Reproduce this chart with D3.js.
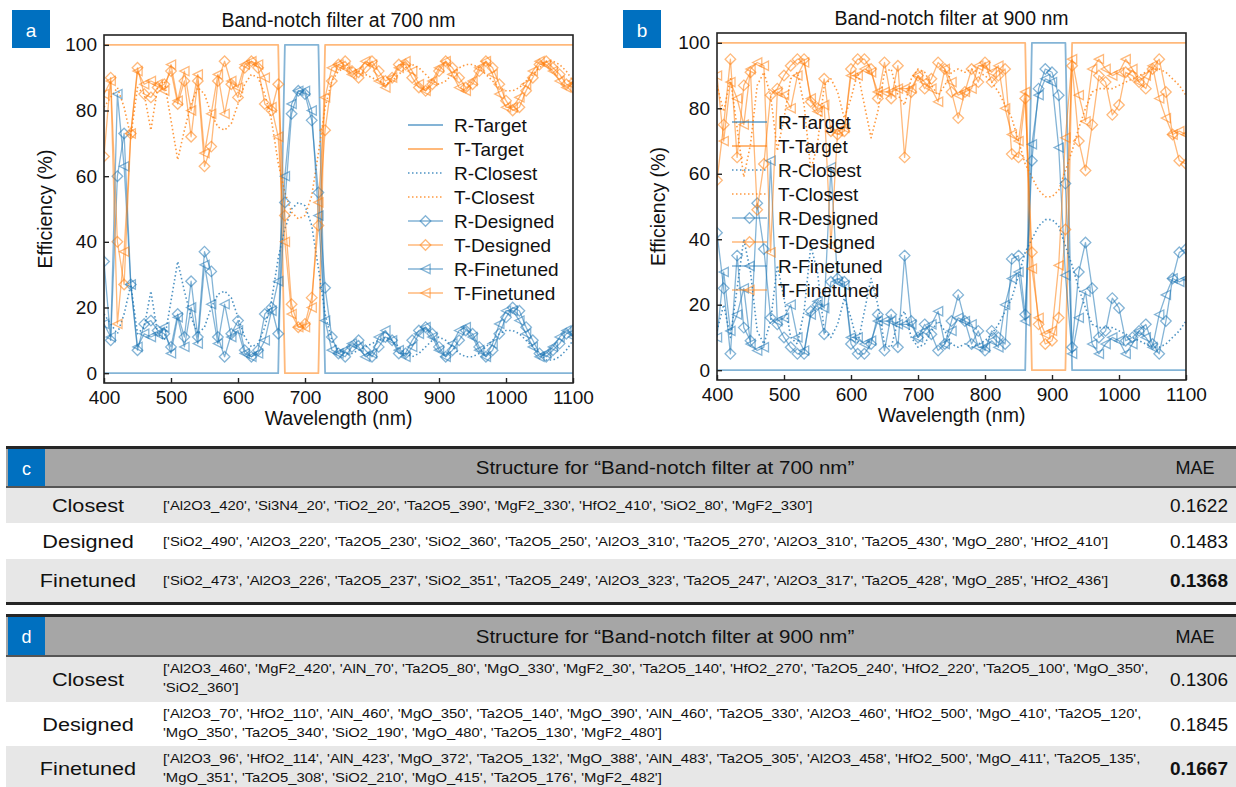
<!DOCTYPE html>
<html>
<head>
<meta charset="utf-8">
<script src="https://cdn.jsdelivr.net/npm/d3@7"></script>
<style>
  body { margin: 0; background: #fff; }
  svg { display: block; font-family: "Liberation Sans", Arial, sans-serif; }
</style>
</head>
<body>
<svg id="fig" width="1236" height="787"></svg>
<script>
// Wavelength grid (nm), sampled every 10 nm
const wavelength = d3.range(400, 1101, 10);
const xTicks = [400, 500, 600, 700, 800, 900, 1000, 1100];
const yTicks = [0, 20, 40, 60, 80, 100];
const legendLabels = ['R-Target', 'T-Target', 'R-Closest', 'T-Closest', 'R-Designed', 'T-Designed', 'R-Finetuned', 'T-Finetuned'];

// ---- Band-notch filter at 700 nm (efficiency, %) ----
const a_RTarget = [0,0,0,0,0,0,0,0,0,0, 0,0,0,0,0,0,0,0,0,0, 0,0,0,0,0,0,0,100,100,100, 100,100,100,0,0,0,0,0,0,0, 0,0,0,0,0,0,0,0,0,0, 0,0,0,0,0,0,0,0,0,0, 0,0,0,0,0,0,0,0,0,0, 0];
const a_TTarget = [100,100,100,100,100,100,100,100,100,100, 100,100,100,100,100,100,100,100,100,100, 100,100,100,100,100,100,100,0,0,0, 0,0,0,100,100,100,100,100,100,100, 100,100,100,100,100,100,100,100,100,100, 100,100,100,100,100,100,100,100,100,100, 100,100,100,100,100,100,100,100,100,100, 100];
const a_RClosest = [18,15,12,18,27,12,14,25,12,10, 22,34,25,17,12,14,20,24,25,23, 17,11,8,9,14,22,35,44,50,52, 51,45,32,18,10,7,6,6,7,8, 9,10,11,10,8,6,5,6,8,10, 11,10,8,6,5,5,6,8,10,12, 13,13,12,10,8,6,4,4,5,7, 10];
const a_TClosest = [81,84,87,81,72,87,85,74,87,89, 77,65,74,82,87,85,79,75,74,76, 82,88,91,90,85,77,64,55,49,47, 48,54,67,81,89,92,93,93,92,91, 90,89,88,89,91,93,94,93,91,89, 88,89,91,93,94,94,93,91,89,87, 86,86,87,89,91,93,95,95,94,92, 89];
const a_RDesigned = [34,10,60,73,27,7,15,16,13,12, 8,18,11,28,11,37,31,11,5,12, 16,7,5,7,18,20,12,52,79,86, 85,77,55,26,11,6,5,8,10,7, 5,8,11,10,6,6,10,13,14,12, 8,5,7,10,13,12,8,5,7,12, 17,20,19,14,10,6,5,7,9,12, 13];
const a_TDesigned = [66,90,40,27,73,93,85,84,87,88, 92,82,89,72,89,63,69,89,95,88, 84,93,95,93,82,80,88,48,21,14, 15,23,45,74,89,94,95,92,90,93, 95,92,89,90,94,94,90,87,86,88, 92,95,93,90,87,88,92,95,93,88, 83,80,81,86,90,94,95,93,91,88, 87];
const a_RFinetuned = [15,11,85,63,27,8,12,11,12,14, 6,17,8,20,9,33,21,9,21,11, 13,6,5,6,10,19,28,60,82,86, 86,80,48,16,7,6,7,9,8,5, 6,11,13,10,7,5,8,12,14,11, 7,5,9,13,14,11,7,5,9,15, 19,19,16,12,8,5,6,8,11,13, 11];
const a_TFinetuned = [85,89,15,37,73,92,88,89,88,86, 94,83,92,80,91,67,79,91,79,89, 87,94,95,94,90,81,72,40,18,14, 14,20,52,84,93,94,93,91,92,95, 94,89,87,90,93,95,92,88,86,89, 93,95,91,87,86,89,93,95,91,85, 81,81,84,88,92,95,94,92,89,87, 89];

// ---- Band-notch filter at 900 nm (efficiency, %) ----
const b_RTarget = [0,0,0,0,0,0,0,0,0,0, 0,0,0,0,0,0,0,0,0,0, 0,0,0,0,0,0,0,0,0,0, 0,0,0,0,0,0,0,0,0,0, 0,0,0,0,0,0,0,100,100,100, 100,100,100,0,0,0,0,0,0,0, 0,0,0,0,0,0,0,0,0,0, 0];
const b_TTarget = [100,100,100,100,100,100,100,100,100,100, 100,100,100,100,100,100,100,100,100,100, 100,100,100,100,100,100,100,100,100,100, 100,100,100,100,100,100,100,100,100,100, 100,100,100,100,100,100,100,0,0,0, 0,0,0,100,100,100,100,100,100,100, 100,100,100,100,100,100,100,100,100,100, 100];
const b_RClosest = [12,20,10,25,40,30,12,8,15,32, 22,10,8,18,38,30,12,10,14,22, 16,8,18,28,20,8,7,15,18,10, 7,8,12,15,12,8,7,8,7,8, 9,11,14,18,22,29,36,40,44,46, 46,44,38,32,25,19,14,13,13,13, 12,11,10,9,8,7,7,8,10,12, 15];
const b_TClosest = [87,79,89,74,59,69,87,91,84,67, 77,89,91,81,61,69,87,89,85,77, 83,91,81,71,79,91,92,84,81,89, 92,91,87,84,87,91,92,91,92,91, 90,88,85,81,77,70,63,59,55,53, 53,55,61,67,74,80,85,86,86,86, 87,88,89,90,91,92,92,91,89,87, 84];
const b_RDesigned = [42,25,5,35,13,9,51,37,16,14, 10,7,5,5,18,20,11,27,28,27, 8,5,5,8,17,6,17,7,35,15, 10,14,11,6,8,15,23,15,8,12, 6,12,10,8,34,35,17,64,86,92, 91,84,57,7,30,39,25,10,12,22, 19,9,10,12,14,8,5,15,28,36, 37];
const b_TDesigned = [58,75,95,65,87,91,49,63,84,86, 90,93,95,95,82,80,89,73,72,73, 92,95,95,92,83,94,83,93,65,85, 90,86,89,94,92,85,77,85,92,88, 94,88,90,92,66,65,83,36,14,8, 9,16,43,93,70,61,75,90,88,78, 81,91,90,88,86,92,95,85,72,64, 63];
const b_RFinetuned = [10,30,12,17,25,8,6,7,64,15, 16,20,10,6,17,21,19,62,27,26, 10,10,8,9,15,15,15,14,14,14, 10,12,14,18,8,12,16,15,14,7, 7,9,7,20,28,30,15,69,84,89, 88,68,29,5,16,24,8,5,8,10, 9,5,8,12,10,7,17,23,28,27, 28];
const b_TFinetuned = [90,70,88,83,75,92,94,93,36,85, 84,80,90,94,83,79,81,38,73,74, 90,90,92,91,85,85,85,86,86,86, 90,88,86,82,92,88,84,85,86,93, 93,91,93,80,72,70,85,31,16,11, 12,32,71,95,84,76,92,95,92,90, 91,95,92,88,90,93,83,77,72,73, 72];

// ---- Layer structures and mean absolute error ----
const rowNames = ['Closest', 'Designed', 'Finetuned'];
const structure700 = [
  ["['Al2O3_420', 'Si3N4_20', 'TiO2_20', 'Ta2O5_390', 'MgF2_330', 'HfO2_410', 'SiO2_80', 'MgF2_330']"],
  ["['SiO2_490', 'Al2O3_220', 'Ta2O5_230', 'SiO2_360', 'Ta2O5_250', 'Al2O3_310', 'Ta2O5_270', 'Al2O3_310', 'Ta2O5_430', 'MgO_280', 'HfO2_410']"],
  ["['SiO2_473', 'Al2O3_226', 'Ta2O5_237', 'SiO2_351', 'Ta2O5_249', 'Al2O3_323', 'Ta2O5_247', 'Al2O3_317', 'Ta2O5_428', 'MgO_285', 'HfO2_436']"]
];
const mae700 = ['0.1622', '0.1483', '0.1368'];
const structure900 = [
  ["['Al2O3_460', 'MgF2_420', 'AlN_70', 'Ta2O5_80', 'MgO_330', 'MgF2_30', 'Ta2O5_140', 'HfO2_270', 'Ta2O5_240', 'HfO2_220', 'Ta2O5_100', 'MgO_350',",
   "'SiO2_360']"],
  ["['Al2O3_70', 'HfO2_110', 'AlN_460', 'MgO_350', 'Ta2O5_140', 'MgO_390', 'AlN_460', 'Ta2O5_330', 'Al2O3_460', 'HfO2_500', 'MgO_410', 'Ta2O5_120',",
   "'MgO_350', 'Ta2O5_340', 'SiO2_190', 'MgO_480', 'Ta2O5_130', 'MgF2_480']"],
  ["['Al2O3_96', 'HfO2_114', 'AlN_423', 'MgO_372', 'Ta2O5_132', 'MgO_388', 'AlN_483', 'Ta2O5_305', 'Al2O3_458', 'HfO2_500', 'MgO_411', 'Ta2O5_135',",
   "'MgO_351', 'Ta2O5_308', 'SiO2_210', 'MgO_415', 'Ta2O5_176', 'MgF2_482']"]
];
const mae900 = ['0.1306', '0.1845', '0.1667'];

const BLUE = '#1f77b4', ORANGE = '#ff7f0e', TAG = '#0070c0';
const seriesStyles = [
  { color: BLUE,   width: 1.8, opacity: 0.55 },
  { color: ORANGE, width: 1.8, opacity: 0.55 },
  { color: BLUE,   width: 1.6, opacity: 0.8, dash: '1.5,2.5' },
  { color: ORANGE, width: 1.6, opacity: 0.8, dash: '1.5,2.5' },
  { color: BLUE,   width: 1.3, opacity: 0.55, marker: 'diamond' },
  { color: ORANGE, width: 1.3, opacity: 0.55, marker: 'diamond' },
  { color: BLUE,   width: 1.3, opacity: 0.55, marker: 'triangle' },
  { color: ORANGE, width: 1.3, opacity: 0.55, marker: 'triangle' }
];
const markerPath = {
  diamond: 'M0,-5.3L5.3,0L0,5.3L-5.3,0Z',
  triangle: 'M-4.6,0L4.6,-4.6L4.6,4.6Z'
};

const svg = d3.select('#fig');
svg.append('rect').attr('width', 1236).attr('height', 787).attr('fill', '#fff');

function tagBox(x, y, w, h, letter, size) {
  svg.append('rect').attr('x', x).attr('y', y).attr('width', w).attr('height', h).attr('fill', TAG);
  svg.append('text').attr('x', x + w / 2).attr('y', y + h / 2 + 1)
    .attr('text-anchor', 'middle').attr('dominant-baseline', 'central')
    .attr('fill', '#fff').attr('font-size', size).text(letter);
}

function drawPanel(p) {
  const x = d3.scaleLinear().domain([400, 1100]).range([p.left, p.right]);
  const y = d3.scaleLinear().domain([-3, 103]).range([p.bottom, p.top]);
  const g = svg.append('g');

  const clipId = 'clip-' + p.tag;
  svg.append('clipPath').attr('id', clipId).append('rect')
    .attr('x', p.left).attr('y', p.top)
    .attr('width', p.right - p.left).attr('height', p.bottom - p.top);
  const plot = g.append('g').attr('clip-path', `url(#${clipId})`);

  const line = d3.line().x((d, i) => x(wavelength[i])).y(d => y(d));

  p.series.forEach((values, k) => {
    const st = seriesStyles[k];
    plot.append('path').datum(values)
      .attr('d', line).attr('fill', 'none')
      .attr('stroke', st.color).attr('stroke-width', st.width)
      .attr('stroke-opacity', st.opacity)
      .attr('stroke-dasharray', st.dash || null)
      .attr('stroke-linejoin', 'round');
    if (st.marker) {
      plot.append('g').selectAll('path').data(values).join('path')
        .attr('transform', (d, i) => `translate(${x(wavelength[i])},${y(d)})`)
        .attr('d', markerPath[st.marker])
        .attr('fill', 'none').attr('stroke', st.color)
        .attr('stroke-width', 1.3).attr('stroke-opacity', st.opacity);
    }
  });

  // axes with inward ticks
  const xAxis = g.append('g').attr('transform', `translate(0,${p.bottom})`)
    .call(d3.axisBottom(x).tickValues(xTicks).tickFormat(d3.format('d'))
      .tickSizeInner(-5).tickSizeOuter(0).tickPadding(8));
  const yAxis = g.append('g').attr('transform', `translate(${p.left},0)`)
    .call(d3.axisLeft(y).tickValues(yTicks).tickFormat(d3.format('d'))
      .tickSizeInner(-5).tickSizeOuter(0).tickPadding(7));
  [xAxis, yAxis].forEach(ax => {
    ax.select('.domain').remove();
    ax.selectAll('.tick line').attr('stroke', '#222').attr('stroke-width', 1.4);
    ax.selectAll('.tick text').attr('font-size', 19).attr('fill', '#111')
      .attr('font-family', '"Liberation Sans", Arial, sans-serif');
  });

  g.append('rect').attr('x', p.left).attr('y', p.top)
    .attr('width', p.right - p.left).attr('height', p.bottom - p.top)
    .attr('fill', 'none').attr('stroke', '#222').attr('stroke-width', 1.6);

  // title and axis labels
  g.append('text').attr('x', (p.left + p.right) / 2).attr('y', p.titleY)
    .attr('text-anchor', 'middle').attr('font-size', 19.5).attr('fill', '#111').text(p.title);
  g.append('text').attr('x', (p.left + p.right) / 2).attr('y', p.bottom + 42)
    .attr('text-anchor', 'middle').attr('font-size', 19.5).attr('fill', '#111').text('Wavelength (nm)');
  g.append('text')
    .attr('transform', `translate(${p.left - 52},${(p.top + p.bottom) / 2}) rotate(-90)`)
    .attr('text-anchor', 'middle').attr('font-size', 19.5).attr('fill', '#111').text('Efficiency (%)');

  // legend
  const lg = g.append('g');
  legendLabels.forEach((lab, k) => {
    const st = seriesStyles[k];
    const ly = p.legendY + k * 24;
    lg.append('line').attr('x1', p.legendX).attr('x2', p.legendX + 35)
      .attr('y1', ly).attr('y2', ly)
      .attr('stroke', st.color).attr('stroke-width', st.width)
      .attr('stroke-opacity', st.opacity).attr('stroke-dasharray', st.dash || null);
    if (st.marker) {
      lg.append('path').attr('transform', `translate(${p.legendX + 17.5},${ly})`)
        .attr('d', markerPath[st.marker]).attr('fill', 'none')
        .attr('stroke', st.color).attr('stroke-width', 1.3).attr('stroke-opacity', st.opacity);
    }
    lg.append('text').attr('x', p.legendX + 46).attr('y', ly)
      .attr('dominant-baseline', 'central').attr('font-size', 19).attr('fill', '#111').text(lab);
  });

  tagBox(p.tagX, 10, 38, 38, p.tag, 19);
}

drawPanel({
  tag: 'a', tagX: 12, left: 104, right: 573, top: 35, bottom: 383, titleY: 27,
  title: 'Band-notch filter at 700 nm', legendX: 408, legendY: 125,
  series: [a_RTarget, a_TTarget, a_RClosest, a_TClosest, a_RDesigned, a_TDesigned, a_RFinetuned, a_TFinetuned]
});
drawPanel({
  tag: 'b', tagX: 623, left: 717, right: 1186, top: 33, bottom: 380, titleY: 25,
  title: 'Band-notch filter at 900 nm', legendX: 732, legendY: 122,
  series: [b_RTarget, b_TTarget, b_RClosest, b_TClosest, b_RDesigned, b_TDesigned, b_RFinetuned, b_TFinetuned]
});

// ---- structure tables (text is set slightly wide, as in the source table) ----
const WIDE = 1.14;
function wideText(g, x, y, str, size, anchor) {
  return g.append('text')
    .attr('transform', `translate(${x},${y}) scale(${WIDE},1)`)
    .attr('text-anchor', anchor).attr('dominant-baseline', 'central')
    .attr('font-size', size).attr('fill', '#111').text(str);
}

function drawTable(t) {
  const L = 6, R = 1236;
  const g = svg.append('g');
  g.append('rect').attr('x', L).attr('y', t.top + 3).attr('width', R - L).attr('height', t.headerH).attr('fill', '#a6a6a6');
  let yy = t.top + 3 + t.headerH;
  const fills = ['#e7e7e7', '#ffffff', '#e7e7e7'];
  const centers = [];
  t.rowH.forEach((h, i) => {
    g.append('rect').attr('x', L).attr('y', yy).attr('width', R - L).attr('height', h).attr('fill', fills[i]);
    centers.push(yy + h / 2);
    yy += h;
  });
  // rules
  g.append('rect').attr('x', L).attr('y', t.top).attr('width', R - L).attr('height', 3).attr('fill', '#262626');
  g.append('rect').attr('x', L).attr('y', t.top + 3 + t.headerH - 1).attr('width', R - L).attr('height', 2).attr('fill', '#555');
  if (t.bottomRule) g.append('rect').attr('x', L).attr('y', yy).attr('width', R - L).attr('height', 3).attr('fill', '#262626');

  const hy = t.top + 3 + t.headerH / 2;
  tagBox(L + 2, t.top + 3, 37, t.headerH - 1, t.tag, 18);
  wideText(g, 665, hy, t.title, 18, 'middle');
  g.append('text').attr('x', 1195).attr('y', hy).attr('text-anchor', 'middle')
    .attr('dominant-baseline', 'central').attr('font-size', 18).attr('fill', '#111').text('MAE');

  rowNames.forEach((name, i) => {
    const cy = centers[i];
    wideText(g, 88, cy, name, 19, 'middle');
    const lines = t.structure[i];
    lines.forEach((ln, j) => {
      wideText(g, 163, cy + (j - (lines.length - 1) / 2) * 19 + t.textShift, ln, 13, 'start');
    });
    g.append('text').attr('x', 1228).attr('y', cy).attr('text-anchor', 'end')
      .attr('dominant-baseline', 'central').attr('font-size', 19).attr('fill', '#111')
      .attr('font-weight', i === 2 ? 'bold' : null).text(t.mae[i]);
  });
}

drawTable({ tag: 'c', top: 446, headerH: 38, rowH: [36, 36, 43], bottomRule: true,
  title: 'Structure for \u201cBand-notch filter at 700 nm\u201d', structure: structure700, mae: mae700, textShift: 0 });
drawTable({ tag: 'd', top: 614, headerH: 39, rowH: [46, 44, 45], bottomRule: false,
  title: 'Structure for \u201cBand-notch filter at 900 nm\u201d', structure: structure900, mae: mae900, textShift: -1 });
</script>
</body>
</html>
